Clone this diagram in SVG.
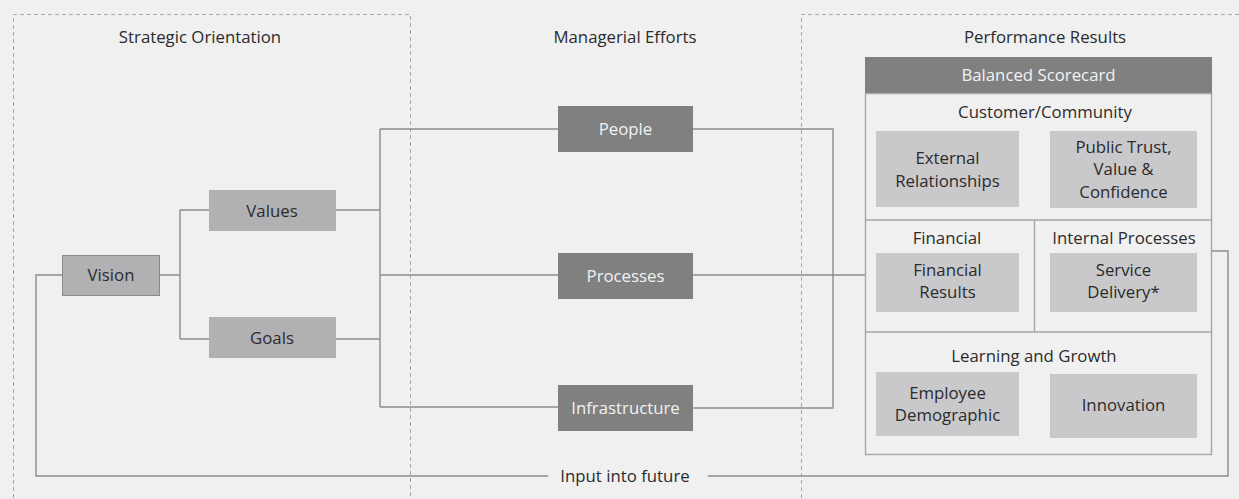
<svg xmlns="http://www.w3.org/2000/svg" width="1239" height="499" viewBox="0 0 1239 499">
  <style>
    text { font-family: "Open Sans", "Noto Sans", "Liberation Sans", sans-serif; font-size: 16.8px; fill: #2b2b2b; text-anchor: middle; dominant-baseline: central; }
    .zone { fill: none; stroke: #a8a8a8; stroke-width: 1; stroke-dasharray: 4 3; }
    .wire { fill: none; stroke: #8c8c8c; stroke-width: 1.4; }
    .mid { fill: #b1b1b4; }
    .dark { fill: #808080; }
    .dark-text { fill: #f2f2f2; }
    .light { fill: #c9c9cb; }
    .frame { fill: none; stroke: #a6a6a6; stroke-width: 1.4; }
  </style>

  <rect x="0" y="0" width="1239" height="499" fill="#f0f0f0"/>

  <!-- column zones -->
  <g id="zones">
    <path class="zone" d="M13.5,505 V14.5 H410.5 V505"/>
    <path class="zone" d="M801.5,505 V14.5 H1245"/>
    <text x="200" y="36">Strategic Orientation</text>
    <text x="625" y="36">Managerial Efforts</text>
    <text x="1045" y="36">Performance Results</text>
  </g>

  <!-- connectors -->
  <g id="connectors">
    <path class="wire" d="M160,275 H180 M180,210 V339 M180,210 H209 M180,339 H209"/>
    <path class="wire" d="M336,210 H380 M336,339 H380 M380,129 V407 M380,129 H558 M380,275 H558 M380,407 H558"/>
    <path class="wire" d="M693,129 H833 V408 H693 M693,275 H865"/>
    <path class="wire" d="M62,275 H36 V476 H548 M708,476 H1228 V251 H1212"/>
    <text x="625" y="475">Input into future</text>
  </g>

  <g id="vision">
    <rect class="mid" x="62.5" y="255.5" width="97" height="40" stroke="#8a8a8a" stroke-width="1"/>
    <text x="111" y="274">Vision</text>
  </g>
  <g id="values">
    <rect class="mid" x="209" y="190" width="127" height="41"/>
    <text x="272" y="210">Values</text>
  </g>
  <g id="goals">
    <rect class="mid" x="209" y="317" width="127" height="41"/>
    <text x="272" y="337">Goals</text>
  </g>

  <g id="people">
    <rect class="dark" x="558" y="106" width="135" height="46"/>
    <text class="dark-text" x="625.5" y="128">People</text>
  </g>
  <g id="processes">
    <rect class="dark" x="558" y="253" width="135" height="46"/>
    <text class="dark-text" x="625.5" y="275">Processes</text>
  </g>
  <g id="infrastructure">
    <rect class="dark" x="558" y="385" width="135" height="46"/>
    <text class="dark-text" x="625.5" y="407">Infrastructure</text>
  </g>

  <!-- balanced scorecard -->
  <g id="scorecard">
    <rect class="dark" x="865" y="57" width="347" height="37"/>
    <text class="dark-text" x="1038.5" y="74">Balanced Scorecard</text>
    <rect class="frame" x="865.5" y="93.5" width="346" height="361"/>
    <path class="frame" d="M865.5,220 H1211.5 M865.5,332 H1211.5 M1034.5,220 V332"/>
  </g>

  <g id="customer">
    <text x="1045" y="111">Customer/Community</text>
    <rect class="light" x="876" y="131" width="143" height="76"/>
    <text x="947.5" y="157">External</text>
    <text x="947.5" y="180">Relationships</text>
    <rect class="light" x="1050" y="131" width="147" height="77"/>
    <text x="1123.5" y="146">Public Trust,</text>
    <text x="1123.5" y="168">Value &amp;</text>
    <text x="1123.5" y="191">Confidence</text>
  </g>

  <g id="financial">
    <text x="947" y="237">Financial</text>
    <rect class="light" x="876" y="253" width="143" height="59"/>
    <text x="947.5" y="269">Financial</text>
    <text x="947.5" y="291">Results</text>
  </g>

  <g id="internal">
    <text x="1124" y="237">Internal Processes</text>
    <rect class="light" x="1050" y="253" width="147" height="59"/>
    <text x="1123.5" y="269">Service</text>
    <text x="1123.5" y="291">Delivery*</text>
  </g>

  <g id="learning">
    <text x="1034" y="355">Learning and Growth</text>
    <rect class="light" x="876" y="372" width="143" height="64"/>
    <text x="947.5" y="392">Employee</text>
    <text x="947.5" y="414">Demographic</text>
    <rect class="light" x="1050" y="374" width="147" height="64"/>
    <text x="1123.5" y="404">Innovation</text>
  </g>
</svg>
